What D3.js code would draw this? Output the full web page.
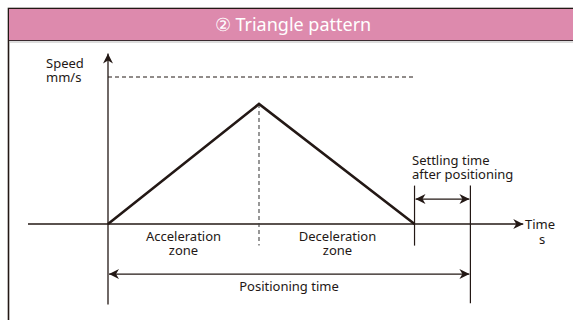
<!DOCTYPE html>
<html lang="en">
<head>
  <meta charset="UTF-8">
  <title>Triangle pattern</title>
  <script src="https://d3js.org/d3.v7.min.js"></script>
  <style>
    body { margin: 0; background: #fff; }
    text { font-family: "Noto Sans", "Open Sans", sans-serif; fill: #231815; }
  </style>
</head>
<body>
  <svg id="chart" width="573" height="320"></svg>
  <script>
    // profile: time (in units of accel time) vs speed (relative to peak)
    const profileTime = [0, 1, 2.03];
    const profileSpeed = [0, 1, 0];
    const maxSpeed = 1.225;
    const settleEnd = 2.4;
    const axisTime = [-0.53, 2.75];   // x axis start / arrow tip
    const axisSpeed = [-0.67, 1.42];  // y axis bottom / arrow tip

    const zoneLabels = [["Acceleration", "zone"], ["Deceleration", "zone"]];
    const zoneCenters = [0.5, 1.52];
    const yLabel = ["Speed", "mm/s"];
    const xLabel = ["Time", "s"];
    const settleLabel = ["Settling time", "after positioning"];
    const title = "② Triangle pattern";

    const svg = d3.select("svg#chart");
    const W = +svg.attr("width");

    const x = d3.scaleLinear().domain([0, 1]).range([108, 259]);
    const y = d3.scaleLinear().domain([0, 1]).range([224, 104]);

    // frame + header
    svg.append("rect").attr("x", 8.5).attr("y", 8.5).attr("width", W + 10).attr("height", 400)
       .attr("fill", "none").attr("stroke", "#231815").attr("stroke-width", 1.6);
    svg.append("rect").attr("x", 9).attr("y", 9).attr("width", W).attr("height", 31)
       .attr("fill", "#dd8aad");
    svg.append("line").attr("x1", 9).attr("x2", W).attr("y1", 40.5).attr("y2", 40.5)
       .attr("stroke", "#3a2a30").attr("stroke-width", 1.2);
    svg.append("line").attr("x1", 9).attr("x2", W).attr("y1", 42).attr("y2", 42)
       .attr("stroke", "#bbb").attr("stroke-width", 1);
    svg.append("text").attr("x", 293).attr("y", 31).attr("text-anchor", "middle")
       .style("font-size", "18px").style("fill", "#fff").text(title);

    const defs = svg.append("defs");
    defs.append("marker").attr("id", "arr").attr("viewBox", "0 0 10 10")
        .attr("refX", 10).attr("refY", 5).attr("markerWidth", 10).attr("markerHeight", 10)
        .attr("markerUnits", "userSpaceOnUse").attr("orient", "auto-start-reverse")
      .append("path").attr("d", "M0,0 L10,5 L0,10 L3,5 Z").attr("fill", "#231815");

    const g = svg.append("g").attr("stroke", "#231815").attr("fill", "none");

    // axes
    g.append("line").attr("x1", x(axisTime[0])).attr("x2", x(axisTime[1]))
     .attr("y1", y(0)).attr("y2", y(0)).attr("stroke-width", 1.3).attr("marker-end", "url(#arr)");
    g.append("line").attr("x1", x(0)).attr("x2", x(0))
     .attr("y1", y(axisSpeed[0])).attr("y2", y(axisSpeed[1])).attr("stroke-width", 1.3).attr("marker-end", "url(#arr)");

    // max speed dashed line
    g.append("line").attr("x1", x(0)).attr("x2", x(2.03))
     .attr("y1", y(maxSpeed)).attr("y2", y(maxSpeed)).attr("stroke-width", 1).attr("stroke-dasharray", "4,3");

    // peak dashed vertical
    g.append("line").attr("x1", x(1)).attr("x2", x(1))
     .attr("y1", y(1)).attr("y2", y(-0.18)).attr("stroke", "#444").attr("stroke-width", 1.1).attr("stroke-dasharray", "4,3");

    // triangle
    g.append("path")
     .datum(profileTime.map((t, i) => [t, profileSpeed[i]]))
     .attr("d", d3.line().x(d => x(d[0])).y(d => y(d[1])))
     .attr("stroke-width", 2.6).attr("stroke-linejoin", "miter");

    // vertical markers
    const tEnd = profileTime[profileTime.length - 1];
    g.append("line").attr("x1", x(tEnd)).attr("x2", x(tEnd))
     .attr("y1", y(0.32)).attr("y2", y(-0.18)).attr("stroke-width", 1.2);
    g.append("line").attr("x1", x(settleEnd)).attr("x2", x(settleEnd))
     .attr("y1", y(0.32)).attr("y2", y(-0.66)).attr("stroke-width", 1.2);

    // settle arrow
    g.append("line").attr("x1", x(tEnd) + 1).attr("x2", x(settleEnd) - 1)
     .attr("y1", y(0.208)).attr("y2", y(0.208)).attr("stroke-width", 1.2)
     .attr("marker-start", "url(#arr)").attr("marker-end", "url(#arr)");

    // positioning arrow
    g.append("line").attr("x1", x(0) + 1).attr("x2", x(settleEnd) - 1)
     .attr("y1", y(-0.417)).attr("y2", y(-0.417)).attr("stroke-width", 1.2)
     .attr("marker-start", "url(#arr)").attr("marker-end", "url(#arr)");

    // multi-line labels as one text with tspans
    const fs = "13px";
    function block(lines, px, py, dy, anchor) {
      const t = svg.append("text").attr("x", px).attr("y", py)
                   .attr("text-anchor", anchor).style("font-size", fs);
      lines.forEach((s, i) => t.append("tspan").attr("x", px).attr("dy", i ? dy : 0).text(s));
    }
    block(yLabel, 46, 68, 14, "start");
    svg.append("text").attr("x", 525).attr("y", 229).style("font-size", fs).text(xLabel[0]);
    svg.append("text").attr("x", 542).attr("y", 244).attr("text-anchor", "middle").style("font-size", fs).text(xLabel[1]);
    block(settleLabel, 412, 165, 13.5, "start");
    zoneLabels.forEach((lines, k) => block(lines, x(zoneCenters[k]), 241, 14, "middle"));
    svg.append("text").attr("x", 289).attr("y", 291).attr("text-anchor", "middle")
       .style("font-size", fs).text("Positioning time");
  </script>
</body>
</html>
